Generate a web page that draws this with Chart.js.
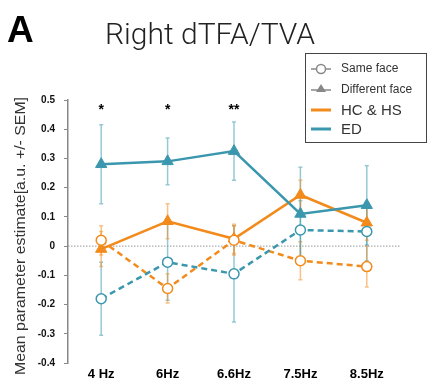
<!DOCTYPE html>
<html>
<head>
<meta charset="utf-8">
<script src="https://cdn.jsdelivr.net/npm/chart.js@4"></script>
<style>
  html, body { margin: 0; padding: 0; background: #fff; }
  #wrap { position: relative; width: 428px; height: 382px; }
</style>
</head>
<body>
<div id="wrap"><canvas id="chart" width="428" height="382"></canvas></div>
<script>
// データ
const categories = ['4 Hz', '6Hz', '6.6Hz', '7.5Hz', '8.5Hz'];
const yTicks = [0.5, 0.4, 0.3, 0.2, 0.1, 0, -0.1, -0.2, -0.3, -0.4];

const edDifferent = [0.28, 0.29, 0.325, 0.11, 0.14];
const edDifferentErr = [0.135, 0.08, 0.1, 0.16, 0.135];
const edSame = [-0.18, -0.055, -0.095, 0.055, 0.05];
const edSameErr = [0.125, 0.13, 0.165, 0.1, 0.1];

const hcDifferent = [-0.01, 0.085, 0.025, 0.175, 0.08];
const hcDifferentErr = [0.06, 0.06, 0.05, 0.05, 0.06];
const hcSame = [0.02, -0.145, 0.02, -0.05, -0.07];
const hcSameErr = [0.05, 0.05, 0.05, 0.065, 0.07];

const stars = ['*', '*', '**', '', ''];

const ORANGE = '#f28a1c';
const BLUE = '#3a97ae';

// エラーバー描画
const errorBars = {
    id: 'errorBars',
    beforeDatasetsDraw(chart) {
        const ctx = chart.ctx;
        const y = chart.scales.y;
        chart.data.datasets.forEach((ds, i) => {
            const meta = chart.getDatasetMeta(i);
            ctx.save();
            ctx.strokeStyle = ds.errColor;
            ctx.lineWidth = 1.5;
            meta.data.forEach((pt, j) => {
                const top = y.getPixelForValue(ds.data[j] + ds.err[j]);
                const bot = y.getPixelForValue(ds.data[j] - ds.err[j]);
                ctx.beginPath();
                ctx.moveTo(pt.x, top); ctx.lineTo(pt.x, bot);
                ctx.moveTo(pt.x - 2, top); ctx.lineTo(pt.x + 2, top);
                ctx.moveTo(pt.x - 2, bot); ctx.lineTo(pt.x + 2, bot);
                ctx.stroke();
            });
            ctx.restore();
        });
        // ゼロライン
        const z = y.getPixelForValue(0);
        ctx.save();
        ctx.strokeStyle = '#999';
        ctx.lineWidth = 1;
        ctx.setLineDash([1.5, 1.5]);
        ctx.beginPath();
        ctx.moveTo(chart.chartArea.left, z);
        ctx.lineTo(chart.chartArea.right, z);
        ctx.stroke();
        ctx.restore();
    }
};

// タイトル・凡例・有意差マーク
const extras = {
    id: 'extras',
    afterDraw(chart) {
        const ctx = chart.ctx;
        const x = chart.scales.x;
        const y = chart.scales.y;
        ctx.save();
        ctx.fillStyle = '#000';
        ctx.textBaseline = 'alphabetic';
        ctx.font = 'bold 37px "Liberation Sans", Arial, sans-serif';
        ctx.textAlign = 'left';
        ctx.fillText('A', 7, 42);

        // タイトル
        ctx.font = '300 29px Roboto, "Liberation Sans", sans-serif';
        ctx.fillStyle = '#222';
        const title = 'Right dTFA/TVA';
        const w = ctx.measureText(title).width;
        ctx.save();
        ctx.translate(105, 44);
        ctx.scale(210 / w, 1);
        ctx.fillText(title, 0, 0);
        ctx.restore();

        // Y軸タイトル
        ctx.save();
        ctx.translate(25, 236);
        ctx.rotate(-Math.PI / 2);
        ctx.textAlign = 'center';
        ctx.fillStyle = '#333';
        ctx.font = '15.5px "Liberation Sans", Arial, sans-serif';
        const yt = 'Mean parameter estimate[a.u. +/- SEM]';
        const yw = ctx.measureText(yt).width;
        ctx.scale(278 / yw, 1);
        ctx.fillText(yt, 0, 0);
        ctx.restore();

        // 有意差
        ctx.fillStyle = '#000';
        ctx.font = 'bold 14px "Liberation Sans", Arial, sans-serif';
        ctx.textAlign = 'center';
        stars.forEach((s, i) => {
            if (s) ctx.fillText(s, x.getPixelForValue(i), y.getPixelForValue(0.5) + 14);
        });

        // 凡例
        ctx.fillStyle = '#fff';
        ctx.fillRect(305, 53, 122, 90);
        ctx.strokeStyle = '#444';
        ctx.lineWidth = 1;
        ctx.strokeRect(305.5, 53.5, 121, 89);
        ctx.strokeStyle = '#888';
        ctx.lineWidth = 1.5;
        ctx.beginPath(); ctx.moveTo(311, 69); ctx.lineTo(331, 69); ctx.stroke();
        ctx.fillStyle = '#fff';
        ctx.beginPath(); ctx.arc(321, 69, 4.5, 0, Math.PI * 2); ctx.fill(); ctx.stroke();
        ctx.beginPath(); ctx.moveTo(311, 90); ctx.lineTo(331, 90); ctx.stroke();
        ctx.fillStyle = '#888';
        ctx.beginPath(); ctx.moveTo(321, 84); ctx.lineTo(326, 92); ctx.lineTo(316, 92); ctx.closePath(); ctx.fill();
        ctx.lineWidth = 3;
        ctx.strokeStyle = ORANGE;
        ctx.beginPath(); ctx.moveTo(311, 110); ctx.lineTo(331, 110); ctx.stroke();
        ctx.strokeStyle = BLUE;
        ctx.beginPath(); ctx.moveTo(311, 129); ctx.lineTo(331, 129); ctx.stroke();
        ctx.fillStyle = '#333';
        ctx.textAlign = 'left';
        ctx.textBaseline = 'middle';
        ctx.font = '12px "Liberation Sans", Arial, sans-serif';
        ctx.fillText('Same face', 341, 69);
        ctx.fillText('Different face', 341, 90);
        ctx.font = '15px "Liberation Sans", Arial, sans-serif';
        ctx.fillText('HC & HS', 341, 111);
        ctx.fillText('ED', 341, 130);
        ctx.restore();
    }
};

function lineSet(data, err, color, same) {
    return {
        data: data,
        err: err,
        errColor: color + '88',
        borderColor: color,
        borderWidth: 2.5,
        borderDash: same ? [6, 4] : [],
        pointStyle: same ? 'circle' : 'triangle',
        pointRadius: same ? 5 : 6.5,
        pointBackgroundColor: same ? '#fff' : color,
        pointBorderColor: color,
        pointBorderWidth: same ? 1.5 : 1,
        tension: 0
    };
}

new Chart(document.getElementById('chart'), {
    type: 'line',
    data: {
        labels: categories,
        datasets: [
            lineSet(edSame, edSameErr, BLUE, true),
            lineSet(hcSame, hcSameErr, ORANGE, true),
            lineSet(edDifferent, edDifferentErr, BLUE, false),
            lineSet(hcDifferent, hcDifferentErr, ORANGE, false)
        ]
    },
    options: {
        responsive: false,
        animation: false,
        layout: { padding: { top: 100, right: 28, left: 0, bottom: 0 } },
        plugins: { legend: { display: false }, tooltip: { enabled: false } },
        scales: {
            x: {
                offset: true,
                border: { display: false },
                grid: { display: false, drawTicks: false },
                ticks: {
                    color: '#000',
                    padding: 4,
                    font: { family: '"Liberation Sans", Arial, sans-serif', size: 13, weight: 'bold' }
                },
                afterFit(s) { s.height = 19; }
            },
            y: {
                min: -0.4,
                max: 0.5,
                afterBuildTicks(s) { s.ticks = yTicks.map(v => ({ value: v })); },
                border: { display: true, color: '#888', width: 1.5 },
                grid: { drawOnChartArea: false, drawTicks: true, tickLength: 4, color: '#888', lineWidth: 1 },
                ticks: {
                    color: '#111',
                    padding: 9,
                    font: { family: '"Liberation Sans", Arial, sans-serif', size: 10, weight: 'bold' },
                    callback: v => (v === 0 ? '0' : v.toFixed(1))
                },
                afterFit(s) { s.width = 68; }
            }
        }
    },
    plugins: [errorBars, extras]
});
</script>
</body>
</html>
